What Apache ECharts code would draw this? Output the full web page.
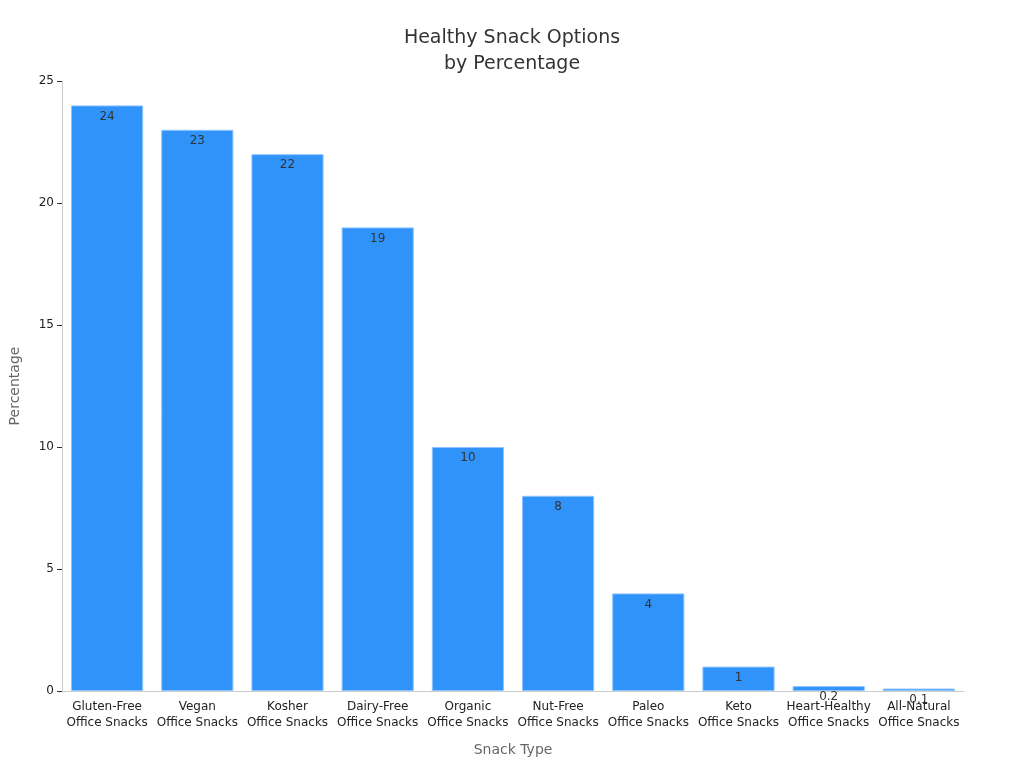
<!DOCTYPE html>
<html>
<head>
<meta charset="utf-8">
<script src="https://cdn.jsdelivr.net/npm/echarts@6/dist/echarts.min.js"></script>
<style>html,body{margin:0;padding:0;background:#fff}#chart{width:1024px;height:768px}</style>
</head>
<body>
<div id="chart"></div>
<script>
const categories = [
    "Gluten-Free\nOffice Snacks", "Vegan\nOffice Snacks", "Kosher\nOffice Snacks",
    "Dairy-Free\nOffice Snacks", "Organic\nOffice Snacks", "Nut-Free\nOffice Snacks",
    "Paleo\nOffice Snacks", "Keto\nOffice Snacks", "Heart-Healthy\nOffice Snacks",
    "All-Natural\nOffice Snacks"
]
const percentages = [24, 23, 22, 19, 10, 8, 4, 1, 0.2, 0.1]
const yTicks = [0, 5, 10, 15, 20, 25]

const chart = echarts.init(document.getElementById("chart"))
chart.setOption({
    textStyle: { fontFamily: "DejaVu Sans" },
    title: {
        text: "Healthy Snack Options\nby Percentage",
        left: "center",
        top: 20,
        textStyle: { fontSize: 19, fontWeight: "normal", color: "#333", lineHeight: 26 }
    },
    grid: { left: 60, right: 60, top: 81, bottom: 77 },
    xAxis: {
        type: "category",
        data: categories,
        name: "Snack Type",
        nameLocation: "middle",
        nameGap: 52,
        nameTextStyle: { fontSize: 14, color: "#666" },
        axisLine: { lineStyle: { color: "#ccc" } },
        axisTick: { alignWithLabel: true, lineStyle: { color: "#333" } },
        axisLabel: { color: "#222", fontSize: 12, lineHeight: 16, interval: 0 }
    },
    yAxis: {
        type: "value",
        min: 0,
        max: 25,
        interval: 5,
        name: "Percentage",
        nameLocation: "middle",
        nameGap: 40,
        nameTextStyle: { fontSize: 14, color: "#666" },
        axisLine: { show: true, lineStyle: { color: "#ccc" } },
        axisTick: { show: true, lineStyle: { color: "#333" } },
        axisLabel: { color: "#222", fontSize: 12, formatter: v => yTicks.includes(v) ? v : "" },
        splitLine: { show: false }
    },
    series: [{
        type: "bar",
        data: percentages,
        barCategoryGap: "20%",
        itemStyle: { color: "#2f93fa", borderColor: "#8cc4ff", borderWidth: 1 },
        label: { show: true, position: "insideTop", color: "#333", fontSize: 12 }
    }]
})
</script>
</body>
</html>
